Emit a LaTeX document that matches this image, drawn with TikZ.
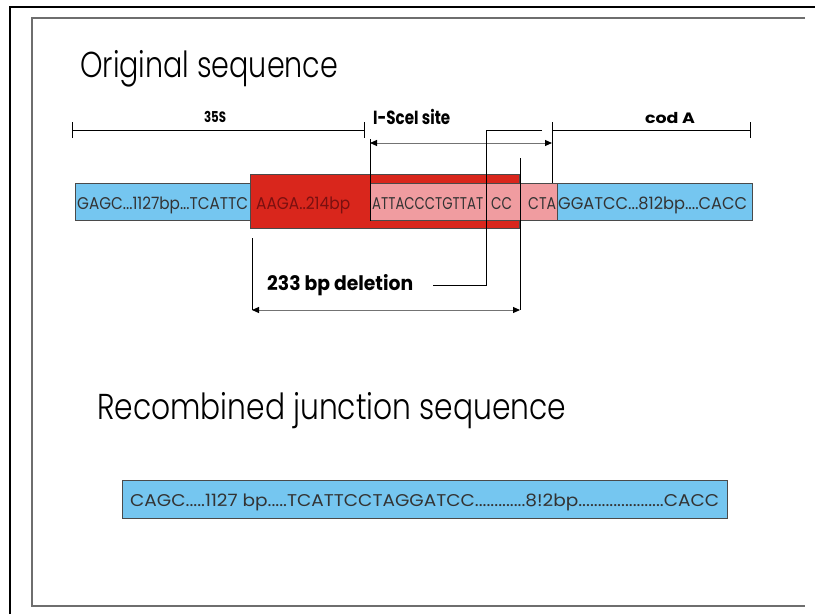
\documentclass[tikz,border=0pt]{standalone}
\usepackage{fontspec}
\usepackage{graphicx}
\setmainfont{Poppins}
\newfontfamily\lightfont{Poppins Light}
\usetikzlibrary{arrows.meta,positioning}
\definecolor{seqblue}{HTML}{75C6F0}
\definecolor{seqred}{HTML}{D9261C}
\definecolor{seqpink}{HTML}{F09CA0}
\definecolor{seqline}{HTML}{4A4A4A}
\definecolor{seqdark}{HTML}{7A1010}
\definecolor{framegray}{HTML}{6E6E6E}
\newcommand{\fitto}[2]{\resizebox{#1}{\height}{#2}}

\begin{document}
\begin{tikzpicture}[x=1pt,y=-1pt,
  seg/.style={draw=seqline,line width=0.8pt,inner sep=0pt,anchor=north west},
  seqtext/.style={inner sep=0pt,anchor=base west,text=black!80,font=\fontsize{17}{17}\selectfont},
  title/.style={inner sep=0pt,anchor=base west,font=\lightfont\fontsize{36}{36}\selectfont},
  tag/.style={inner sep=0pt,anchor=base,font=\bfseries\fontsize{15}{15}\selectfont},
  bigtag/.style={tag,anchor=base west,font=\bfseries\fontsize{20}{20}\selectfont},
  ruler/.style={line width=0.9pt,{Bar[width=16pt]}-{Bar[width=16pt]}},
  dim/.style={draw=black!55,line width=1pt,{Triangle[length=7pt,width=6pt,color=black]}-{Triangle[length=7pt,width=6pt,color=black]}},
  leader/.style={line width=1pt}]
\useasboundingbox (0,0) rectangle (815,614);
% frame
\draw[line width=2pt] (10,614) -- (10,7) -- (815,7);
\draw[framegray,line width=1.5pt] (805,18) -- (32,18) -- (32,606) -- (805,606);
% titles
\node[title] (orig) at (80,77) {\fitto{258pt}{Original sequence}};
\node[title] (recomb) at (97,419) {\fitto{469pt}{Recombined junction sequence}};
% original sequence
\node[seg,fill=seqblue,minimum width=175pt,minimum height=37pt] (p35) at (75,183) {};
\node[seg,fill=seqred,minimum width=269pt,minimum height=54pt] (del) at (250,174) {};
\node[seg,fill=seqpink,minimum width=187pt,minimum height=37pt] (site) at (370,183) {};
\node[seg,fill=seqblue,minimum width=195pt,minimum height=37pt] (coda) at (557,183) {};
\node[seqtext] (t35) at (77,209) {\fitto{171pt}{GAGC...1127bp...TCATTC}};
\node[seqtext,text=seqdark] (tdel) at (256,209) {\fitto{94pt}{AAGA..214bp}};
\node[seqtext] (tsite) at (372,209) {\fitto{111pt}{ATTACCCTGTTAT}};
\node[seqtext] (tcc) at (491,209) {\fitto{21pt}{CC}};
\node[seqtext] (tcta) at (528,209) {\fitto{28pt}{CTA}};
\node[seqtext] (tcoda) at (558,209) {\fitto{189pt}{GGATCC...812bp....CACC}};
% rulers
\coordinate (r35a) at (72,130);
\coordinate (r35b) at (365,130);
\coordinate (rcoda) at (552,130);
\coordinate (rcodb) at (751,130);
\draw[ruler] (r35a) -- (r35b);
\draw[ruler] (rcoda) -- (rcodb);
\node[tag] (l35) at (215,122) {\fitto{22pt}{35S}};
\node[tag] (lcod) at (670,123) {\fitto{50pt}{cod A}};
\node[bigtag,font=\bfseries\fontsize{19}{19}\selectfont] (lsite) at (373,124) {\fitto{77pt}{I-SceI site}};
% I-SceI site
\coordinate (sa) at (370,143);
\coordinate (sb) at (552,143);
\draw[dim] (sa) -- (sb);
\draw[leader] (370,139) -- (site.south west);
\draw[leader] (rcoda) -- (552,183);
% deletion
\coordinate (da) at (252,310);
\coordinate (db) at (520,310);
\draw[dim] (da) -- (db);
\draw[leader] (252,238) -- (da);
\draw[leader] (520,158) -- (db);
\draw[leader] (542,130) -- (486,130) -- (486,285) -- (433,285);
\node[bigtag] (ldel) at (267,290) {\fitto{146pt}{233 bp deletion}};
% recombined junction
\node[seg,fill=seqblue,minimum width=605pt,minimum height=38pt] (junc) at (122,480) {};
\node[seqtext] (tjunc) at (130,506) {\fitto{589pt}{CAGC.....1127 bp.....TCATTCCTAGGATCC.............8!2bp......................CACC}};
\end{tikzpicture}
\end{document}
